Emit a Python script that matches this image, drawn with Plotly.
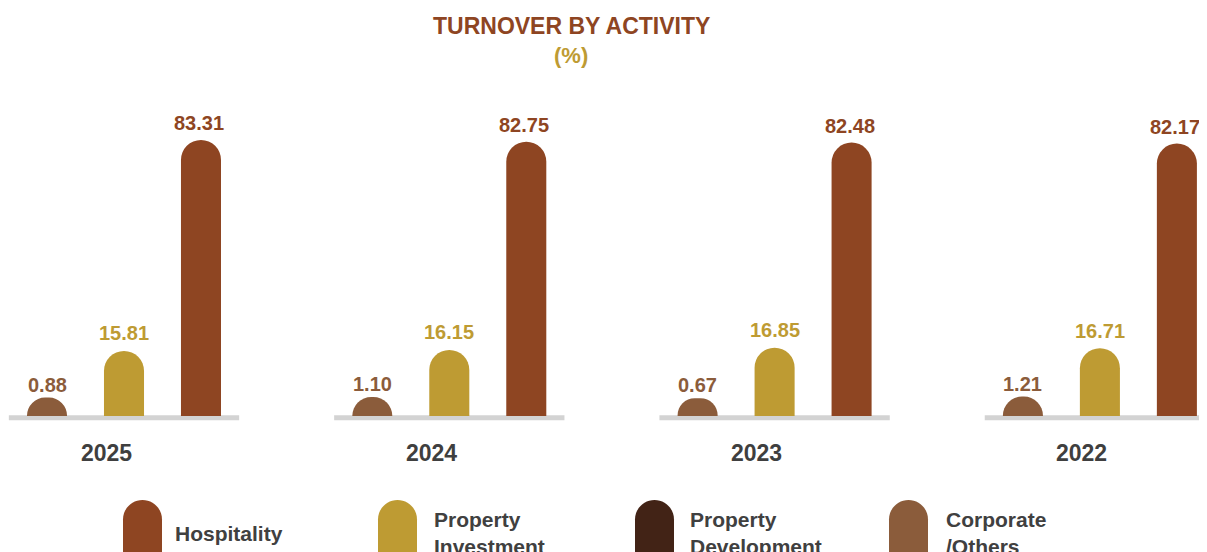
import plotly.graph_objects as go

# ---- data ----
years = ["2025", "2024", "2023", "2022"]
corporate_others = [0.88, 1.10, 0.67, 1.21]
property_investment = [15.81, 16.15, 16.85, 16.71]
hospitality = [83.31, 82.75, 82.48, 82.17]
legend_labels = ["Hospitality", "Property<br>Investment", "Property<br>Development", "Corporate<br>/Others"]

# ---- styles ----
C_HOSP = "#8E4522"
C_PINV = "#BE9B33"
C_PDEV = "#422316"
C_CORP = "#8B5C3B"
FONT = "Liberation Sans, Arial, sans-serif"
W, H = 1207, 552
OFF = 8                        # page body margin of the html page
PLOT_TOP = 100                 # page row of the top of the plot area
BASE_ROW = 416                 # page row of the bar floor
PLOT_BOT = 428                 # page row of the bottom of the plot area
LIFT = 5.0                     # visual lift of every bar above the floor (keeps small bars as domes)
Y_TOP = 101.1                  # top of the axis, in lifted units
SCALE = (BASE_ROW - PLOT_TOP) / Y_TOP              # px per unit
Y_BOT = -(PLOT_BOT - BASE_ROW) / SCALE
M_T = PLOT_TOP - OFF
M_B = H - (PLOT_BOT - OFF)
PX_PER_CAT = 325.3
FIRST_CENTER = 124             # page column of the first group centre
BAR_SHIFT = [-77, 0, 75]       # px offsets of the three bars in a group
LABEL_GAP = [0, 4.5, 3.5]      # px gap between bar top and its value label

def py(pix):
    """page row -> paper y"""
    return (PLOT_BOT - pix) / (PLOT_BOT - PLOT_TOP)

def px(pix):
    """page column -> paper x"""
    return (pix - OFF) / W

fig = go.Figure()
series = [("Corporate/Others", corporate_others, C_CORP),
          ("Property Investment", property_investment, C_PINV),
          ("Hospitality", hospitality, C_HOSP)]
annotations = []
for k, (name, vals, col) in enumerate(series):
    heights = [v + LIFT for v in vals]
    fig.add_trace(go.Bar(
        x=years, y=heights, name=name,
        marker=dict(color=col, cornerradius=20, line=dict(width=0)),
        customdata=vals, hovertemplate="%{x}: %{customdata:.2f}%<extra>" + name + "</extra>",
        showlegend=False,
    ))
    for i, (v, hh) in enumerate(zip(vals, heights)):
        annotations.append(dict(x=i, y=hh, xref="x", yref="y", text=f"<b>{v:.2f}</b>",
                                showarrow=False, xshift=BAR_SHIFT[k], yshift=LABEL_GAP[k],
                                yanchor="bottom", xanchor="center",
                                font=dict(family=FONT, size=20, color=col)))

shapes = []
line_y = -1.8 / SCALE
for i, yr in enumerate(years):
    shapes.append(dict(type="line", xref="x", yref="y", x0=i - 0.354, x1=i + 0.354,
                       y0=line_y, y1=line_y,
                       line=dict(color="#D3D3D3", width=5), layer="below"))
    annotations.append(dict(x=i, xref="x", y=py(453), yref="paper", text=f"<b>{yr}</b>",
                            showarrow=False, xshift=-18, yanchor="middle",
                            font=dict(family=FONT, size=23, color="#3F3F3F")))

# title
annotations.append(dict(x=px(571), y=py(26), xref="paper", yref="paper", showarrow=False,
                        text="<b>TURNOVER BY ACTIVITY</b>", yanchor="middle",
                        font=dict(family=FONT, size=23, color=C_HOSP)))
annotations.append(dict(x=px(571), y=py(55), xref="paper", yref="paper", showarrow=False,
                        text="<b>(%)</b>", yanchor="middle",
                        font=dict(family=FONT, size=22, color=C_PINV)))

# custom legend
r, h = 19.5, 64
c = 0.5523 * r
swatch = (f"M 0,0 L 0,{h - r} C 0,{h - r + c} {r - c},{h} {r},{h} "
          f"C {r + c},{h} {2 * r},{h - r + c} {2 * r},{h - r} L {2 * r},0 Z")
leg_cols = [C_HOSP, C_PINV, C_PDEV, C_CORP]
swatch_x = [123, 378, 635, 889]
text_x = [173, 432, 688, 944]
for lab, col, sx, tx in zip(legend_labels, leg_cols, swatch_x, text_x):
    shapes.append(dict(type="path", xref="paper", yref="paper",
                       xsizemode="pixel", ysizemode="pixel",
                       xanchor=px(sx), yanchor=py(564), path=swatch,
                       fillcolor=col, line=dict(width=0)))
    annotations.append(dict(x=px(tx), y=py(533), xref="paper", yref="paper", showarrow=False,
                            text=f"<b>{lab}</b>", xanchor="left", yanchor="middle", align="left",
                            font=dict(family=FONT, size=21, color="#404040")))

x_left = -(FIRST_CENTER - OFF) / PX_PER_CAT
x_right = x_left + W / PX_PER_CAT
fig.update_layout(
    width=W, height=H, margin=dict(l=0, r=0, t=M_T, b=M_B),
    paper_bgcolor="white", plot_bgcolor="white",
    barmode="group", bargap=0.29, bargroupgap=0.48,
    xaxis=dict(range=[x_left, x_right], showticklabels=False, showgrid=False,
               zeroline=False, showline=False, ticks=""),
    yaxis=dict(range=[Y_BOT, Y_TOP], showticklabels=False, showgrid=False,
               zeroline=False, showline=False, ticks=""),
    shapes=shapes, annotations=annotations, showlegend=False,
)
fig.write_html("out.html")
